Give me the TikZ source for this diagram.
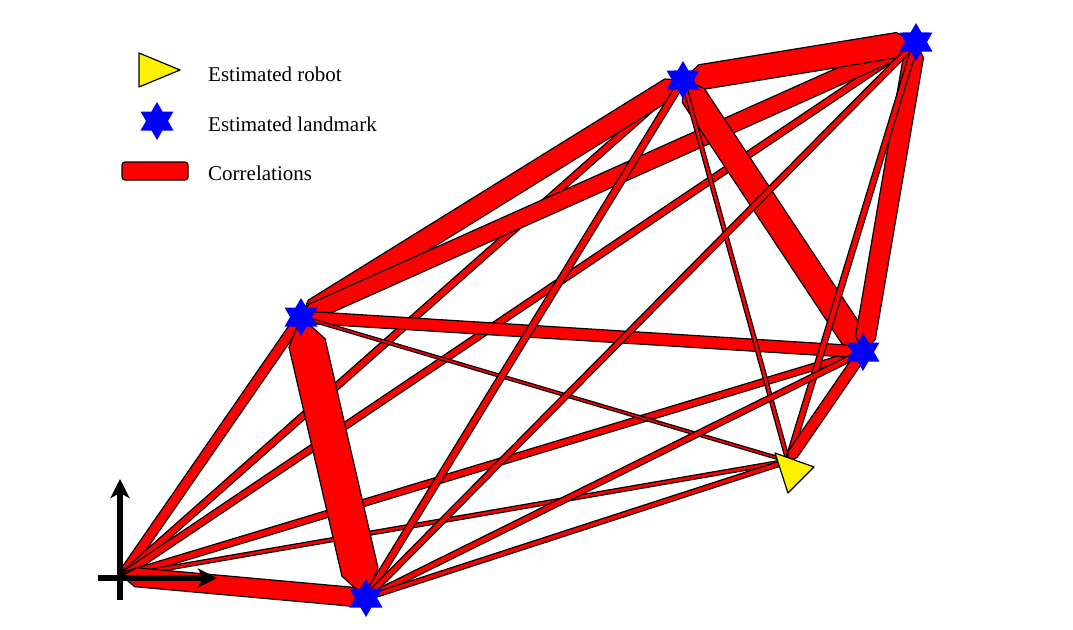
\documentclass[tikz,border=0pt]{standalone}
\usepackage{fontspec}
\setmainfont{Liberation Serif}
\usetikzlibrary{shapes.geometric,calc,arrows.meta}

\tikzset{
  corr/.style={fill=red, draw=black, line width=1.2pt},
  landmark/.style={star, star points=6, star point ratio=1.732, fill=blue, inner sep=0pt, minimum size=38pt},
  robot/.style={fill=yellow, draw=black, line width=1.2pt, line join=round},
  axisarrow/.style={line width=5.5pt, -{Stealth[length=19pt, width=19pt, inset=5pt]}},
  keytext/.style={anchor=base west, inner sep=0pt, font=\fontsize{21pt}{25pt}\selectfont}
}

% tapered correlation band between two points
\newcommand{\band}[3]{%
  \pgfmathsetlengthmacro{\bandd}{0.72*#3}%
  \pgfmathsetlengthmacro{\bandh}{0.5*#3}%
  \draw[corr] (#1)
    -- ($(#1)!\bandd!(#2)!\bandh!90:(#2)$)
    -- ($(#2)!\bandd!(#1)!\bandh!-90:(#1)$)
    -- (#2)
    -- ($(#2)!\bandd!(#1)!\bandh!90:(#1)$)
    -- ($(#1)!\bandd!(#2)!\bandh!-90:(#2)$)
    -- cycle;}

\begin{document}
\begin{tikzpicture}[x=1pt, y=-1pt]
  \useasboundingbox (0,0) rectangle (1073,629);

  \coordinate (o) at (122,576);
  \coordinate (lm1) at (301,317);
  \coordinate (lm2) at (683,80);
  \coordinate (lm3) at (916,42);
  \coordinate (lm4) at (863,352);
  \coordinate (lm5) at (366,598);
  \coordinate (rob) at (788,461);

  % correlations
  \foreach \a/\b/\w in {o/lm1/10, o/lm2/7, o/lm3/7, o/lm4/7, o/rob/4, o/lm5/19,
                        lm1/lm2/21, lm1/lm3/17, lm1/lm4/12, lm1/lm5/37, lm1/rob/3,
                        lm2/lm3/25, lm2/lm4/26, lm2/lm5/7, lm2/rob/4,
                        lm3/lm4/20, lm3/lm5/6, lm3/rob/6,
                        lm4/lm5/6, lm4/rob/11,
                        lm5/rob/5}
    {\band{\a}{\b}{\w}}

  % frame
  \coordinate (xend) at (217,578);
  \coordinate (yend) at (120,479);
  \draw[line width=5.5pt] (98,578) -- (120,578);
  \draw[axisarrow] (120,578) -- (xend);
  \draw[line width=5.5pt] (120,600) -- (120,578);
  \draw[axisarrow] (120,578) -- (yend);

  % robot and landmarks
  \draw[robot] (775,453) -- (814,467) -- (788,493) -- cycle;
  \foreach \i in {1,...,5}
    \node[landmark] (star\i) at (lm\i) {};

  % legend
  \draw[robot] (139,53) -- (139,87) -- (180,70) -- cycle;
  \node[keytext] (keyrobot) at (208,81) {Estimated robot};
  \node[landmark] (keystar) at (157,121) {};
  \node[keytext] (keylmk) at (208,131) {Estimated landmark};
  \draw[corr, rounded corners=3pt] (122,162) rectangle (188,180);
  \node[keytext] (keycorr) at (208,180) {Correlations};
\end{tikzpicture}
\end{document}
